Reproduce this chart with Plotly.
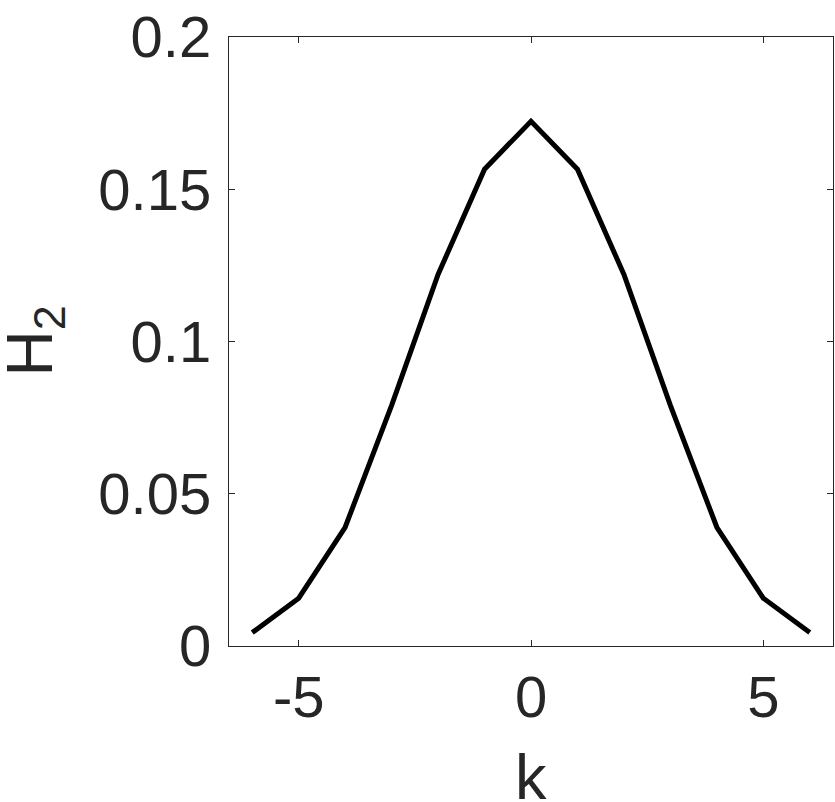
import plotly.graph_objects as go

# values
k = [-6, -5, -4, -3, -2, -1, 0, 1, 2, 3, 4, 5, 6]
h2 = [0.0044, 0.0157, 0.039, 0.079, 0.122, 0.1566, 0.1723,
      0.1566, 0.122, 0.079, 0.039, 0.0157, 0.0044]

x_ticks = [-5, 0, 5]
x_labels = ["-5", "0", "5"]
y_ticks = [0, 0.05, 0.1, 0.15, 0.2]
y_labels = ["0", "0.05", "0.1", "0.15", "0.2"]

axis_color = "#262626"
font_family = "Liberation Sans, Arial, sans-serif"

fig = go.Figure()
fig.add_scatter(x=k, y=h2, mode="lines",
                line=dict(color="black", width=5), showlegend=False)

axis_common = dict(
    showline=True, linecolor=axis_color, linewidth=1.3, mirror="ticks",
    ticks="inside", ticklen=6, tickwidth=1.3, tickcolor=axis_color,
    showgrid=False, zeroline=False, ticklabeloverflow="allow",
    tickfont=dict(size=58, color=axis_color, family=font_family),
)

fig.update_xaxes(range=[-6.5, 6.5], tickvals=x_ticks, ticktext=x_labels,
                 **axis_common)
fig.update_yaxes(range=[0, 0.2], tickvals=y_ticks, ticktext=y_labels,
                 ticklabelstandoff=5, **axis_common)

# axis titles as annotations: title standoff is clamped inside the margins
fig.add_annotation(
    text="k", xref="paper", yref="paper", x=0.5, y=0,
    xanchor="center", yanchor="top", yshift=-94, showarrow=False,
    font=dict(size=63, color=axis_color, family=font_family),
)
fig.add_annotation(
    text="H<sub>2</sub>", xref="paper", yref="paper", x=0, y=0.5,
    xanchor="center", yanchor="middle", xshift=-196, textangle=-90,
    showarrow=False,
    font=dict(size=64, color=axis_color, family=font_family),
)

fig.update_layout(
    width=835, height=802,
    margin=dict(l=229, r=2, t=37, b=156, autoexpand=False),
    paper_bgcolor="white", plot_bgcolor="white",
)

# drop the browser's default body margin so the figure fills the window
fig.write_html(
    "out.html",
    config={"displayModeBar": False},
    post_script="document.body.style.margin='0';"
                "document.body.style.overflow='hidden';",
)
